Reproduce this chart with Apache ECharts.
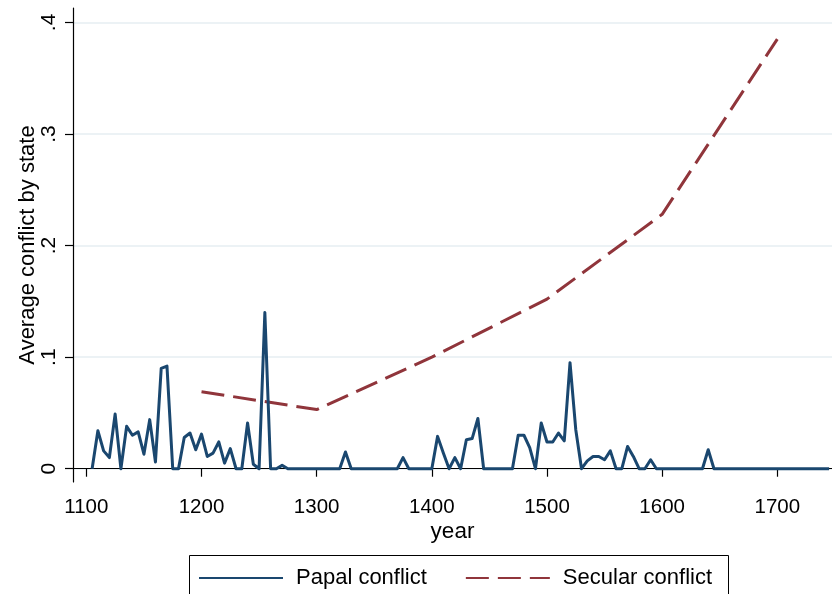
<!DOCTYPE html>
<html>
<head>
<meta charset="utf-8">
<script src="https://cdn.jsdelivr.net/npm/echarts@6/dist/echarts.min.js"></script>
<style>html,body{margin:0;padding:0;background:#fff}#c{width:832px;height:594px}</style>
</head>
<body>
<div id="c"></div>
<script>
const papalYears = [1105,1110,1115,1120,1125,1130,1135,1140,1145,1150,1155,1160,1165,1170,1175,1180,1185,1190,1195,1200,
  1205,1210,1215,1220,1225,1230,1235,1240,1245,1250,1255,1260,1265,1270,1275,1280,1285,1290,1295,1300,
  1305,1310,1315,1320,1325,1330,1335,1340,1345,1350,1355,1360,1365,1370,1375,1380,1385,1390,1395,1400,
  1405,1410,1415,1420,1425,1430,1435,1440,1445,1450,1455,1460,1465,1470,1475,1480,1485,1490,1495,1500,
  1505,1510,1515,1520,1525,1530,1535,1540,1545,1550,1555,1560,1565,1570,1575,1580,1585,1590,1595,1600,
  1605,1610,1615,1620,1625,1630,1635,1640,1645,1650,1655,1660,1665,1670,1675,1680,1685,1690,1695,1700,
  1705,1710,1715,1720,1725,1730,1735,1740,1745];
const papalValues = [0,0.034,0.016,0.010,0.049,0,0.038,0.030,0.033,0.013,0.044,0.006,0.090,0.092,0,0,0.028,0.032,0.017,0.031,
  0.011,0.014,0.024,0.005,0.018,0,0,0.041,0.004,0,0.140,0,0,0.003,0,0,0,0,0,0,
  0,0,0,0,0.015,0,0,0,0,0,0,0,0,0,0.010,0,0,0,0,0,
  0.029,0.014,0,0.010,0,0.026,0.027,0.045,0,0,0,0,0,0,0.030,0.030,0.019,0,0.041,0.024,
  0.024,0.032,0.025,0.095,0.035,0,0.007,0.011,0.011,0.008,0.016,0,0,0.020,0.011,0,0,0.008,0,0,
  0,0,0,0,0,0,0,0.017,0,0,0,0,0,0,0,0,0,0,0,0,
  0,0,0,0,0,0,0,0,0];
const secularYears = [1200,1300,1400,1500,1600,1700];
const secularValues = [0.069,0.053,0.100,0.152,0.228,0.385];
const xTickValues = [1100,1200,1300,1400,1500,1600,1700];
const xTickLabels = ["1100","1200","1300","1400","1500","1600","1700"];
const yTickValues = [0,0.1,0.2,0.3,0.4];
const yTickLabels = ["0",".1",".2",".3",".4"];
const seriesNames = ["Papal conflict","Secular conflict"];

const FONT = "Liberation Sans";
const chart = echarts.init(document.getElementById('c'), null, {renderer:'canvas'});
const papalData = papalYears.map((y,i)=>[y,papalValues[i]]);
const secularData = secularYears.map((y,i)=>[y,secularValues[i]]);

chart.setOption({
  animation:false,
  backgroundColor:'#ffffff',
  textStyle:{fontFamily:FONT},
  grid:{left:73, right:0, top:8, bottom:112, containLabel:false},
  xAxis:{
    type:'value', min:1088.4, max:1747.5,
    name:'year', nameLocation:'middle', nameGap:38, nameMoveOverlap:false,
    nameTextStyle:{fontSize:22.5, color:'#000', fontFamily:FONT},
    axisLine:{show:true, lineStyle:{color:'#000', width:1.2}},
    axisTick:{show:true, length:8, lineStyle:{color:'#000', width:1.2}, customValues:xTickValues},
    axisLabel:{fontSize:20.5, color:'#000', margin:15, fontFamily:FONT, customValues:xTickValues,
      formatter:(v)=>xTickLabels[xTickValues.indexOf(v)] ?? ''},
    splitLine:{show:false}
  },
  yAxis:{
    type:'value', min:-0.0119, max:0.4129,
    name:'Average conflict by state', nameLocation:'middle', nameGap:34, nameMoveOverlap:false,
    nameTextStyle:{fontSize:22, color:'#000', fontFamily:FONT},
    axisLine:{show:true, lineStyle:{color:'#000', width:1.2}},
    axisTick:{show:true, length:8, lineStyle:{color:'#000', width:1.2}, customValues:yTickValues},
    axisLabel:{fontSize:21, color:'#000', margin:13, rotate:90, fontFamily:FONT, customValues:yTickValues,
      formatter:(v)=>{const i=yTickValues.findIndex(t=>Math.abs(t-v)<1e-9); return i>=0?yTickLabels[i]:'';}},
    splitLine:{show:true, lineStyle:{color:'#e6eef2', width:1.5}}
  },
  graphic:[{type:'rect', left:189, top:555, shape:{width:539, height:50}, style:{fill:'#fff', stroke:'#000', lineWidth:1}, z:-1}],
  legend:{
    left:193, top:562, itemWidth:84, itemHeight:20, itemGap:38,
    itemStyle:{opacity:0},
    textStyle:{fontSize:22, color:'#000', fontFamily:FONT, padding:[0,0,0,8]},
    data:seriesNames
  },
  series:[
    {name:seriesNames[0], type:'line', data:papalData, symbol:'none', showSymbol:false,
     lineStyle:{color:'#1a476f', width:3, join:'round'}, itemStyle:{color:'#1a476f'}, z:3},
    {name:seriesNames[1], type:'line', data:secularData, symbol:'none', showSymbol:false,
     lineStyle:{color:'#90353b', width:3, type:[23,9]}, itemStyle:{color:'#90353b'}, z:2}
  ]
});
</script>
</body>
</html>
